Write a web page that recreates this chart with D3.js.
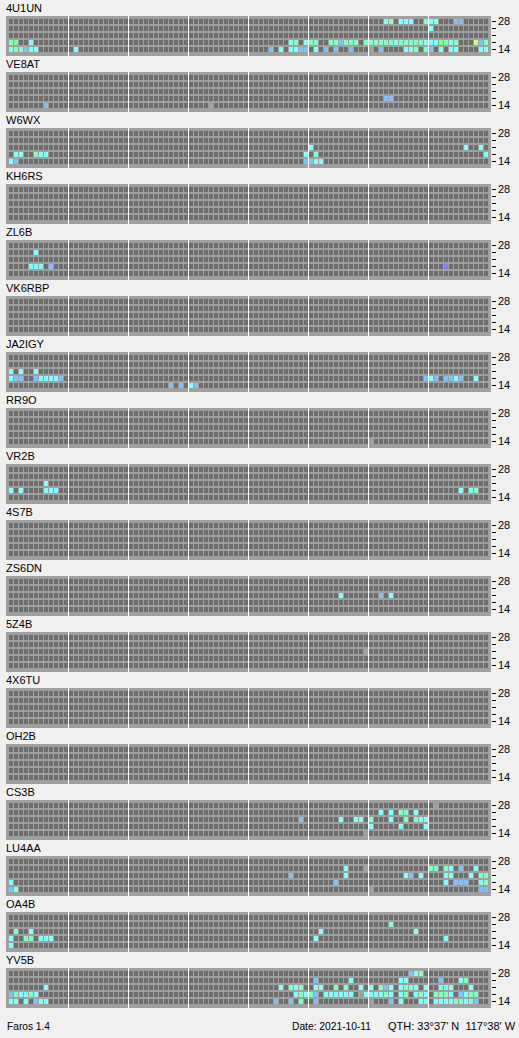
<!DOCTYPE html>
<html>
<head>
<meta charset="utf-8">
<title>Faros 1.4</title>
<script src="https://cdn.jsdelivr.net/npm/d3@7"></script>
<style>
  html, body { margin: 0; padding: 0; background: #f0f0f0; }
  svg { display: block; font-family: "Liberation Sans", Arial, sans-serif; }
</style>
</head>
<body>
<svg id="chart" width="519" height="1038"></svg>
<script>
// NCDXF/IARU beacons, in transmit order
const beacons = ["4U1UN", "VE8AT", "W6WX", "KH6RS", "ZL6B", "VK6RBP", "JA2IGY", "RR9O", "VR2B",
                 "4S7B", "ZS6DN", "5Z4B", "4X6TU", "OH2B", "CS3B", "LU4AA", "OA4B", "YV5B"];
// Bands in MHz, top row first
const bands = [28, 24, 21, 18, 14];
const bandTickLabels = ["28", "", "", "", "14"];
// 96 quarter-hour slots, 00:00 .. 23:45 UTC
const slots = d3.range(96);

// Detection levels: code -> cell colour
const levelCodes  = ["x", "p", "b", "c", "g", "G", "y"];
const levelColors = ["#a0a0a0", "#8080ff", "#80c0ff", "#80ffff", "#80ffc0", "#80ff80", "#c0ff80"];

// Heard spots per beacon, one string per band (28, 24, 21, 18, 14): "<slot><level>"
const spots4U1UN = [
  "75c 76g 78c 79c 80c 83g 84c 85c 89b 90b",
  "84c",
  "",
  "0g 1G 4c 56c 57g 59c 60g 61g 64g 65g 66b 67g 68g 69g 71g 72g 73g 74g 75g 76g 77c 78g 79g 80g 81g 82g 83c 84c 85c 86G 87g 88c 89g 93y 94b 95g",
  "0c 1g 2g 3b 4c 5c 13c 52b 54c 56c 57c 58b 59b 61c 63b 65b 68b 72x 74b 79c 80c 81g 83g 84b 86c 88c 89c 94c 95c"
];
const spotsVE8AT  = ["", "", "", "75b 76b", "7b 40x"];
const spotsW6WX   = ["", "", "60c 91c 94c", "1c 2c 5g 6c 7c 59c 61g 95c", "0c 1b 59b 60b 61c 62c"];
const spotsKH6RS  = ["", "", "", "", ""];
const spotsZL6B   = ["", "5c", "", "4c 5c 6c 8b 87p", ""];
const spotsVK6RBP = ["", "", "", "", ""];
const spotsJA2IGY = [
  "", "",
  "0c 2c 5c",
  "0c 1b 2b 5b 6c 7c 8c 9c 10b 83b 84c 85b 87b 88b 89c 90b 93c",
  "32b 34b 36c 37b"
];
const spotsRR9O   = ["", "", "", "", "72x"];
const spotsVR2B   = ["", "", "7c", "0c 2c 7c 8c 9c 90c 92c 93g", ""];
const spots4S7B   = ["", "", "", "", ""];
const spotsZS6DN  = ["", "", "66c 74b 76c", "", ""];
const spots5Z4B   = ["", "", "71x", "", ""];
const spots4X6TU  = ["", "", "", "", ""];
const spotsOH2B   = ["", "", "", "", ""];
const spotsCS3B   = [
  "85x",
  "74c 76c 78g 79g 81c",
  "58b 66c 69c 70c 72g 76c 79g 81g 82c 83c",
  "72c 78c 83c",
  "71x"
];
const spotsLU4AA  = [
  "",
  "67c 71x 84g 85g 87g 88c 90b 93c",
  "56b 67c 79c 80b 82c 87c 88c 92c 94g 95g",
  "0c 65b 87c 89b 90b 91b 94c 95g",
  "0b 1c 72x 94b 95b"
];
const spotsOA4B   = [
  "",
  "76g",
  "1g 4c 62c 81c",
  "0c 3g 4g 6c 7c 8c 61c 87c",
  "0c"
];
const spotsYV5B   = [
  "80b 81c 82g",
  "61b 68c 78c 79c 86b 90c 91g",
  "7c 54c 56g 57c 58g 61c 62c 65g 67g 70c 72c 74g 75b 76c 78c 79g 80g 81c 83c 86g 87c 88c 92c",
  "0b 1g 2c 3c 4g 5c 57c 58g 59c 60g 61b 63c 64c 65c 66c 67c 68c 70x 71c 72c 73c 74c 75g 76c 78c 79g 81c 82g 83c 85g 86g 87g 88c 90b 91c 92g 93g",
  "0c 1c 3c 5b 6c 7c 53b 56b 58g 61b 72x 76b 78c 82c 83c 85c 86c 87c 88c 89g 90g 91c 92g 93b"
];

const spotTable = [spots4U1UN, spotsVE8AT, spotsW6WX, spotsKH6RS, spotsZL6B, spotsVK6RBP,
                   spotsJA2IGY, spotsRR9O, spotsVR2B, spots4S7B, spotsZS6DN, spots5Z4B,
                   spots4X6TU, spotsOH2B, spotsCS3B, spotsLU4AA, spotsOA4B, spotsYV5B];

const footerLeft = "Faros 1.4";
const footerDate = "Date: 2021-10-11";
const footerQth  = "QTH: 33\u00b037' N  117\u00b038' W";

// ---- layout ----
const svg = d3.select("#chart");
const panelHeight = 40;
const panelY = d3.scaleBand().domain(beacons).range([16, 16 + 56 * beacons.length]);
const x = d3.scaleBand().domain(slots).range([9, 488]).paddingInner(0.2);
const y = d3.scaleBand().domain(bands).range([3, 36]).paddingInner(2 / 7);
const color = d3.scaleOrdinal().domain(levelCodes).range(levelColors);

function parseSpots(rows) {
  const out = [];
  rows.forEach((str, i) => {
    str.split(/\s+/).filter(Boolean).forEach(tok => {
      out.push({ band: bands[i], slot: +tok.slice(0, -1), level: tok.slice(-1) });
    });
  });
  return out;
}

const emptyCells = d3.cross(bands, slots).map(([band, slot]) => ({ band, slot }));
const dividers = d3.range(12, 96, 12); // every 3 hours

const panels = svg.selectAll("g.panel")
  .data(beacons.map((name, i) => ({ name, spots: parseSpots(spotTable[i]) })))
  .join("g")
  .attr("class", "panel")
  .attr("transform", d => `translate(0,${panelY(d.name)})`);

panels.append("text")
  .attr("x", 6).attr("y", -4)
  .attr("font-size", 11)
  .attr("fill", "#000")
  .text(d => d.name);

panels.append("rect")
  .attr("x", 6).attr("y", 0)
  .attr("width", 485).attr("height", panelHeight)
  .attr("fill", "#a0a0a0");

panels.append("g")
  .selectAll("rect")
  .data(emptyCells)
  .join("rect")
  .attr("x", d => x(d.slot)).attr("y", d => y(d.band))
  .attr("width", x.bandwidth()).attr("height", y.bandwidth())
  .attr("fill", "#6e6e6e");

panels.append("g")
  .selectAll("rect")
  .data(dividers)
  .join("rect")
  .attr("x", d => x(d) - 1).attr("y", 0)
  .attr("width", 1).attr("height", panelHeight)
  .attr("fill", "#ffffff");

panels.append("g")
  .selectAll("rect")
  .data(d => d.spots)
  .join("rect")
  .attr("x", d => x(d.slot)).attr("y", d => y(d.band))
  .attr("width", x.bandwidth()).attr("height", y.bandwidth())
  .attr("fill", d => color(d.level));

// Band axis on the right of every panel
const axis = d3.axisRight(y)
  .tickSize(4)
  .tickPadding(2)
  .tickFormat((b, i) => bandTickLabels[i]);

panels.append("g")
  .attr("transform", "translate(492,0)")
  .call(axis)
  .call(g => g.select(".domain").remove())
  .call(g => g.selectAll("text")
    .attr("font-size", 11)
    .attr("font-family", "\"Liberation Sans\", Arial, sans-serif")
    .attr("fill", "#000"))
  .call(g => g.selectAll("line").attr("stroke", "#000"));

// Footer
const footer = svg.append("g").attr("font-size", 11).attr("fill", "#000");
footer.append("text").attr("x", 7).attr("y", 1030)
  .attr("textLength", 43).attr("lengthAdjust", "spacingAndGlyphs").text(footerLeft);
footer.append("text").attr("x", 292).attr("y", 1030)
  .attr("textLength", 79).attr("lengthAdjust", "spacingAndGlyphs").text(footerDate);
footer.append("text").attr("x", 388).attr("y", 1030)
  .style("white-space", "pre")
  .text(footerQth);
</script>
</body>
</html>
